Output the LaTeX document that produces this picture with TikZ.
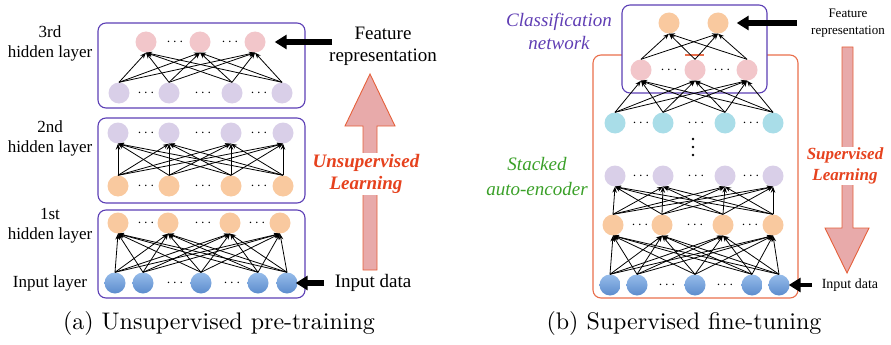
\documentclass[tikz,border=0pt]{standalone}
\usepackage{fontspec}
\newfontfamily\tnr{Liberation Serif}
\newfontfamily\capfont{lmroman10-regular}[Extension=.otf]
\usetikzlibrary{arrows.meta}
\definecolor{cpink}{RGB}{242,198,202}
\definecolor{cpurp}{RGB}{217,207,232}
\definecolor{corange}{RGB}{249,201,159}
\definecolor{ccyan}{RGB}{169,221,232}
\definecolor{cblueT}{RGB}{150,188,234}
\definecolor{cblueB}{RGB}{92,140,205}
\definecolor{boxpurp}{RGB}{92,63,181}
\definecolor{boxorange}{RGB}{233,110,75}
\definecolor{arrfill}{RGB}{232,170,170}
\definecolor{arrdraw}{RGB}{229,96,58}
\definecolor{redtxt}{RGB}{230,66,30}
\definecolor{purptxt}{RGB}{96,62,180}
\definecolor{greentxt}{RGB}{58,160,40}
\begin{document}
\begin{tikzpicture}[x=1pt,y=-1pt,
  neuron/.style={circle, minimum size=21pt, inner sep=0pt, draw=none},
  pinkn/.style={neuron, fill=cpink},
  purpn/.style={neuron, fill=cpurp},
  orangen/.style={neuron, fill=corange},
  cyann/.style={neuron, fill=ccyan},
  bluen/.style={neuron, top color=cblueT, bottom color=cblueB},
  link/.style={-{Stealth[length=6pt,width=4.5pt]}, line width=0.8pt},
  dotsn/.style={font=\fontsize{14}{14}\selectfont, inner sep=0pt},
  lbl/.style={font=\tnr\fontsize{17}{20}\selectfont, align=center},
  pbox/.style={draw=boxpurp, line width=1.1pt, rounded corners=8pt},
  obox/.style={draw=boxorange, line width=1.1pt, rounded corners=8pt},
  bigarrow/.style={fill=arrfill, draw=arrdraw, line width=0.9pt},
  blackarrow/.style={-{Triangle[length=12pt,width=14pt]}, line width=5.5pt, black},
  caption/.style={font=\capfont\fontsize{24}{28}\selectfont}
]
\useasboundingbox (0,0) rectangle (891,345);

% ================= (a) =================
\draw[pbox] (98,23) rectangle (305,108);
\draw[pbox] (98,118) rectangle (305,203);
\draw[pbox] (98,210) rectangle (305,298);

% layer 3 box
\foreach \n/\x in {1/146,2/200,3/255} \node[pinkn] (p\n) at (\x,42) {};
\foreach \n/\x in {1/119,2/169,3/232,4/282} \node[purpn] (q\n) at (\x,93) {};
% layer 2 box
\foreach \n/\x in {1/118,2/169,3/231,4/283} \node[purpn] (r\n) at (\x,133) {};
\foreach \n/\x in {1/118,2/169,3/231,4/283} \node[orangen] (s\n) at (\x,186) {};
% layer 1 box
\foreach \n/\x in {1/118,2/168,3/230,4/280} \node[orangen] (t\n) at (\x,223) {};
\foreach \n/\x in {1/115,2/143,3/201,4/258,5/287} \node[bluen] (u\n) at (\x,283) {};

\foreach \i in {1,...,4} \foreach \j in {1,...,3} \draw[link] (q\i.north) -- (p\j.south);
\foreach \i in {1,...,4} \foreach \j in {1,...,4} \draw[link] (s\i.north) -- (r\j.south);
\foreach \i in {1,...,5} \foreach \j in {1,...,4} \draw[link] (u\i.north) -- (t\j.south);

% dots
\foreach \x in {175,230} \node[dotsn] (dp\x) at (\x,42) {$\cdots$};
\foreach \x/\y in {146/93,203/93,259/93, 146/133,203/133,259/133, 146/186,203/186,259/186,
                   146/223,203/223,257/223, 175/283,232/283}
  \node[dotsn] (da\x\y) at (\x,\y) {$\cdots$};

% labels
\node[lbl] (l3) at (50,43) {3rd\\hidden layer};
\node[lbl] (l2) at (50,138) {2nd\\hidden layer};
\node[lbl] (l1) at (50,226) {1st\\hidden layer};
\node[lbl] (l0) at (50,283) {Input layer};

% big up arrow
\draw[bigarrow] (363,270) -- (363,126) -- (345,126) -- (370,74) -- (395,126) -- (377,126) -- (377,270) -- cycle;
\node[font=\tnr\bfseries\itshape\fontsize{19}{22}\selectfont, text=redtxt, align=center, fill=white, inner sep=1pt]
  (unsup) at (366,174) {Unsupervised\\Learning};
\node[font=\tnr\fontsize{19}{22}\selectfont, align=center] (featA) at (383,46) {Feature\\representation};
\node[font=\tnr\fontsize{19}{22}\selectfont] (inA) at (373,283) {Input data};

\coordinate (fa) at (332,42);
\draw[blackarrow, shorten >=9pt] (fa) -- (p3.east);
\coordinate (ia) at (324,283);
\draw[blackarrow, shorten >=-2pt] (ia) -- (u5.east);

\node[caption] (capA) at (219,323) {(a) Unsupervised pre-training};

% ================= (b) =================
\draw[obox] (593,55) rectangle (798,298);
\draw[pbox, fill=white] (622,5) rectangle (767,93);
\draw[draw=boxorange, line width=1.6pt] (685,55) -- (704,55);

\foreach \n/\x in {1/669,2/718} \node[orangen] (o\n) at (\x,23) {};
\foreach \n/\x in {1/641,2/695,3/747} \node[pinkn] (k\n) at (\x,70) {};
\foreach \n/\x in {1/615,2/663,3/725,4/773} \node[cyann] (c\n) at (\x,123) {};
\foreach \n/\x in {1/615,2/663,3/725,4/773} \node[purpn] (v\n) at (\x,176) {};
\foreach \n/\x in {1/613,2/662,3/723,4/773} \node[orangen] (g\n) at (\x,225) {};
\foreach \n/\x in {1/610,2/637,3/695,4/752,5/779} \node[bluen] (b\n) at (\x,285) {};

\foreach \i in {1,...,3} \foreach \j in {1,...,2} \draw[link] (k\i.north) -- (o\j.south);
\foreach \i in {1,...,4} \foreach \j in {1,...,3} \draw[link] (c\i.north) -- (k\j.south);
\foreach \i in {1,...,4} \foreach \j in {1,...,4} \draw[link] (g\i.north) -- (v\j.south);
\foreach \i in {1,...,5} \foreach \j in {1,...,4} \draw[link] (b\i.north) -- (g\j.south);

\foreach \x/\y in {669/70,722/70, 641/123,696/123,751/123, 641/176,696/176,751/176,
                   640/225,695/225,750/225, 667/285,725/285}
  \node[dotsn] (db\x\y) at (\x,\y) {$\cdots$};
\foreach \y in {139,147,155} \fill (693,\y) circle[radius=1.3pt];

\node[font=\tnr\itshape\fontsize{19}{23}\selectfont, text=purptxt, align=center] (cls) at (559,31) {Classification\\network};
\node[font=\tnr\itshape\fontsize{19}{25}\selectfont, text=greentxt, align=center] (sae) at (537,177) {Stacked\\auto-encoder};

% big down arrow
\draw[bigarrow] (842,47) -- (842,228) -- (825,228) -- (847,273) -- (869,228) -- (853,228) -- (853,47) -- cycle;
\node[font=\tnr\bfseries\itshape\fontsize{17}{21}\selectfont, text=redtxt, align=center, fill=white, inner sep=1pt]
  (sup) at (845,166) {Supervised\\Learning};
\node[font=\tnr\fontsize{13}{17}\selectfont, align=center] (featB) at (848,23) {Feature\\representation};
\node[font=\tnr\fontsize{14}{16}\selectfont] (inB) at (850,285) {Input data};

\coordinate (fb) at (797,23);
\draw[blackarrow, shorten >=8pt] (fb) -- (o2.east);
\coordinate (ib) at (812,285);
\draw[blackarrow, line width=4.5pt, shorten >=-1pt] (ib) -- (b5.east);

\node[caption] (capB) at (684,323) {(b) Supervised fine-tuning};
\end{tikzpicture}
\end{document}
